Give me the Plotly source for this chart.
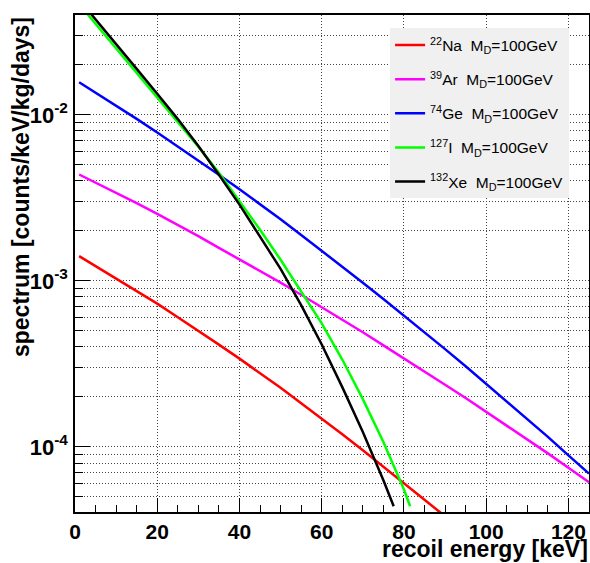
import plotly.graph_objects as go

# ---- data ----
energy = [1, 5, 10, 15, 20, 25, 30, 35, 40, 45, 50, 55, 60, 65, 70, 75, 80, 85, 90,
          95, 100, 105, 110, 115, 120, 125]

na_energy = [1, 5, 10, 15, 20, 25, 30, 35, 40, 45, 50, 55, 60, 65, 70, 75, 80, 85, 90]
na_rate = [1.409e-3, 1.226e-3, 1.038e-3, 8.73e-4, 7.29e-4, 6.04e-4, 5.01e-4, 4.13e-4,
           3.40e-4, 2.78e-4, 2.27e-4, 1.83e-4, 1.48e-4, 1.19e-4, 9.55e-5, 7.60e-5,
           6.04e-5, 4.81e-5, 3.82e-5]

ar_rate = [4.37e-3, 3.91e-3, 3.39e-3, 2.94e-3, 2.53e-3, 2.18e-3, 1.86e-3, 1.58e-3,
           1.35e-3, 1.15e-3, 9.75e-4, 8.25e-4, 6.95e-4, 5.85e-4, 4.90e-4, 4.09e-4,
           3.42e-4, 2.85e-4, 2.37e-4, 1.97e-4, 1.63e-4, 1.35e-4, 1.11e-4, 9.14e-5,
           7.49e-5, 6.13e-5]

ge_rate = [1.570e-2, 1.36e-2, 1.136e-2, 9.45e-3, 7.82e-3, 6.46e-3, 5.32e-3, 4.36e-3,
           3.56e-3, 2.90e-3, 2.35e-3, 1.89e-3, 1.52e-3, 1.22e-3, 9.75e-4, 7.77e-4,
           6.18e-4, 4.90e-4, 3.88e-4, 3.06e-4, 2.40e-4, 1.88e-4, 1.47e-4, 1.15e-4,
           8.90e-5, 6.90e-5]

i_energy = [1, 5, 10, 15, 20, 25, 30, 35, 40, 45, 50, 55, 60, 65, 70, 75, 80, 81.5]
i_rate = [4.64e-2, 3.53e-2, 2.52e-2, 1.80e-2, 1.28e-2, 9.10e-3, 6.43e-3, 4.48e-3,
          3.04e-3, 2.03e-3, 1.34e-3, 8.69e-4, 5.54e-4, 3.36e-4, 1.94e-4, 1.07e-4,
          5.54e-5, 4.39e-5]

xe_energy = [1, 5, 10, 15, 20, 25, 30, 35, 40, 45, 50, 55, 60, 65, 70, 75, 77.5]
xe_rate = [4.94e-2, 3.74e-2, 2.65e-2, 1.89e-2, 1.34e-2, 9.42e-3, 6.48e-3, 4.36e-3,
           2.88e-3, 1.86e-3, 1.18e-3, 7.14e-4, 4.14e-4, 2.29e-4, 1.23e-4, 6.30e-5,
           4.39e-5]

labels = ["<sup>22</sup>Na  M<sub>D</sub>=100GeV",
          "<sup>39</sup>Ar  M<sub>D</sub>=100GeV",
          "<sup>74</sup>Ge  M<sub>D</sub>=100GeV",
          "<sup>127</sup>I  M<sub>D</sub>=100GeV",
          "<sup>132</sup>Xe  M<sub>D</sub>=100GeV"]
colors = ["#ff0000", "#ff00ff", "#0000ff", "#00ff00", "#000000"]

y_major = [1e-4, 1e-3, 1e-2]
y_major_text = ["<b>10<sup>-4</sup></b>", "<b>10<sup>-3</sup></b>", "<b>10<sup>-2</sup></b>"]
y_minor = [4e-5, 5e-5, 6e-5, 7e-5, 8e-5, 9e-5,
           2e-4, 3e-4, 4e-4, 5e-4, 6e-4, 7e-4, 8e-4, 9e-4,
           2e-3, 3e-3, 4e-3, 5e-3, 6e-3, 7e-3, 8e-3, 9e-3,
           2e-2, 3e-2]
x_major = [0, 20, 40, 60, 80, 100, 120]
x_major_text = ["<b>%d</b>" % v for v in x_major]
x_minor = [5, 10, 15, 25, 30, 35, 45, 50, 55, 65, 70, 75, 85, 90, 95, 105, 110, 115, 125]

series = [(na_energy, na_rate), (energy, ar_rate), (energy, ge_rate),
          (i_energy, i_rate), (xe_energy, xe_rate)]

fig = go.Figure()
for k, ((xs, ys), lab, col) in enumerate(zip(series, labels, colors)):
    fig.add_trace(go.Scatter(x=xs, y=ys, mode="lines", name=lab,
                             legendgroup="g%d" % k,
                             line=dict(color=col, width=2.5)))

FONT = "Liberation Sans, Arial, sans-serif"
grid_dash = "1px,2px"
fig.update_layout(
    width=590, height=563,
    margin=dict(l=75, r=1, t=15, b=51, autoexpand=False),
    paper_bgcolor="white", plot_bgcolor="white",
    font=dict(family=FONT, color="black"),
    showlegend=True,
    legend=dict(x=0.613, y=0.973, xanchor="left", yanchor="top",
                bgcolor="#f0f0f0", borderwidth=0,
                font=dict(size=15.5, family=FONT, color="black"),
                tracegroupgap=11, itemwidth=30),
    xaxis=dict(range=[0, 125], showline=True, mirror=True, linecolor="black",
               linewidth=1.5, ticks="inside", ticklen=14, tickcolor="black",
               tickmode="array", tickvals=x_major, ticktext=x_major_text,
               tickfont=dict(size=21, family=FONT), zeroline=False,
               showgrid=True, gridcolor="#444", gridwidth=1, griddash=grid_dash,
               minor=dict(tickmode="array", tickvals=x_minor,
                          ticks="inside", ticklen=7, tickcolor="black", showgrid=False)),
    yaxis=dict(type="log", range=[-4.392, -1.399], showline=True, mirror=True,
               linecolor="black", linewidth=1.5, ticks="inside", ticklen=15,
               tickcolor="black", tickmode="array", tickvals=y_major,
               ticktext=y_major_text, tickfont=dict(size=22, family=FONT),
               ticklabelstandoff=1,
               showgrid=True, gridcolor="#444", gridwidth=1, griddash=grid_dash,
               minor=dict(tickmode="array", tickvals=y_minor, ticks="inside",
                          ticklen=8, tickcolor="black", showgrid=True,
                          gridcolor="#444", gridwidth=1, griddash=grid_dash)),
    annotations=[
        dict(text="<b>recoil energy [keV]</b>", xref="paper", yref="paper",
             x=1.0, y=-0.1033, xanchor="right", yanchor="bottom", showarrow=False,
             borderpad=0, font=dict(size=23, family=FONT)),
        dict(text="<b>spectrum [counts/keV/kg/days]</b>", xref="paper", yref="paper",
             x=-0.105, y=1.0, xanchor="center", yanchor="top", textangle=-90,
             showarrow=False, font=dict(size=23, family=FONT)),
    ],
)

fig.write_html("out.html")
